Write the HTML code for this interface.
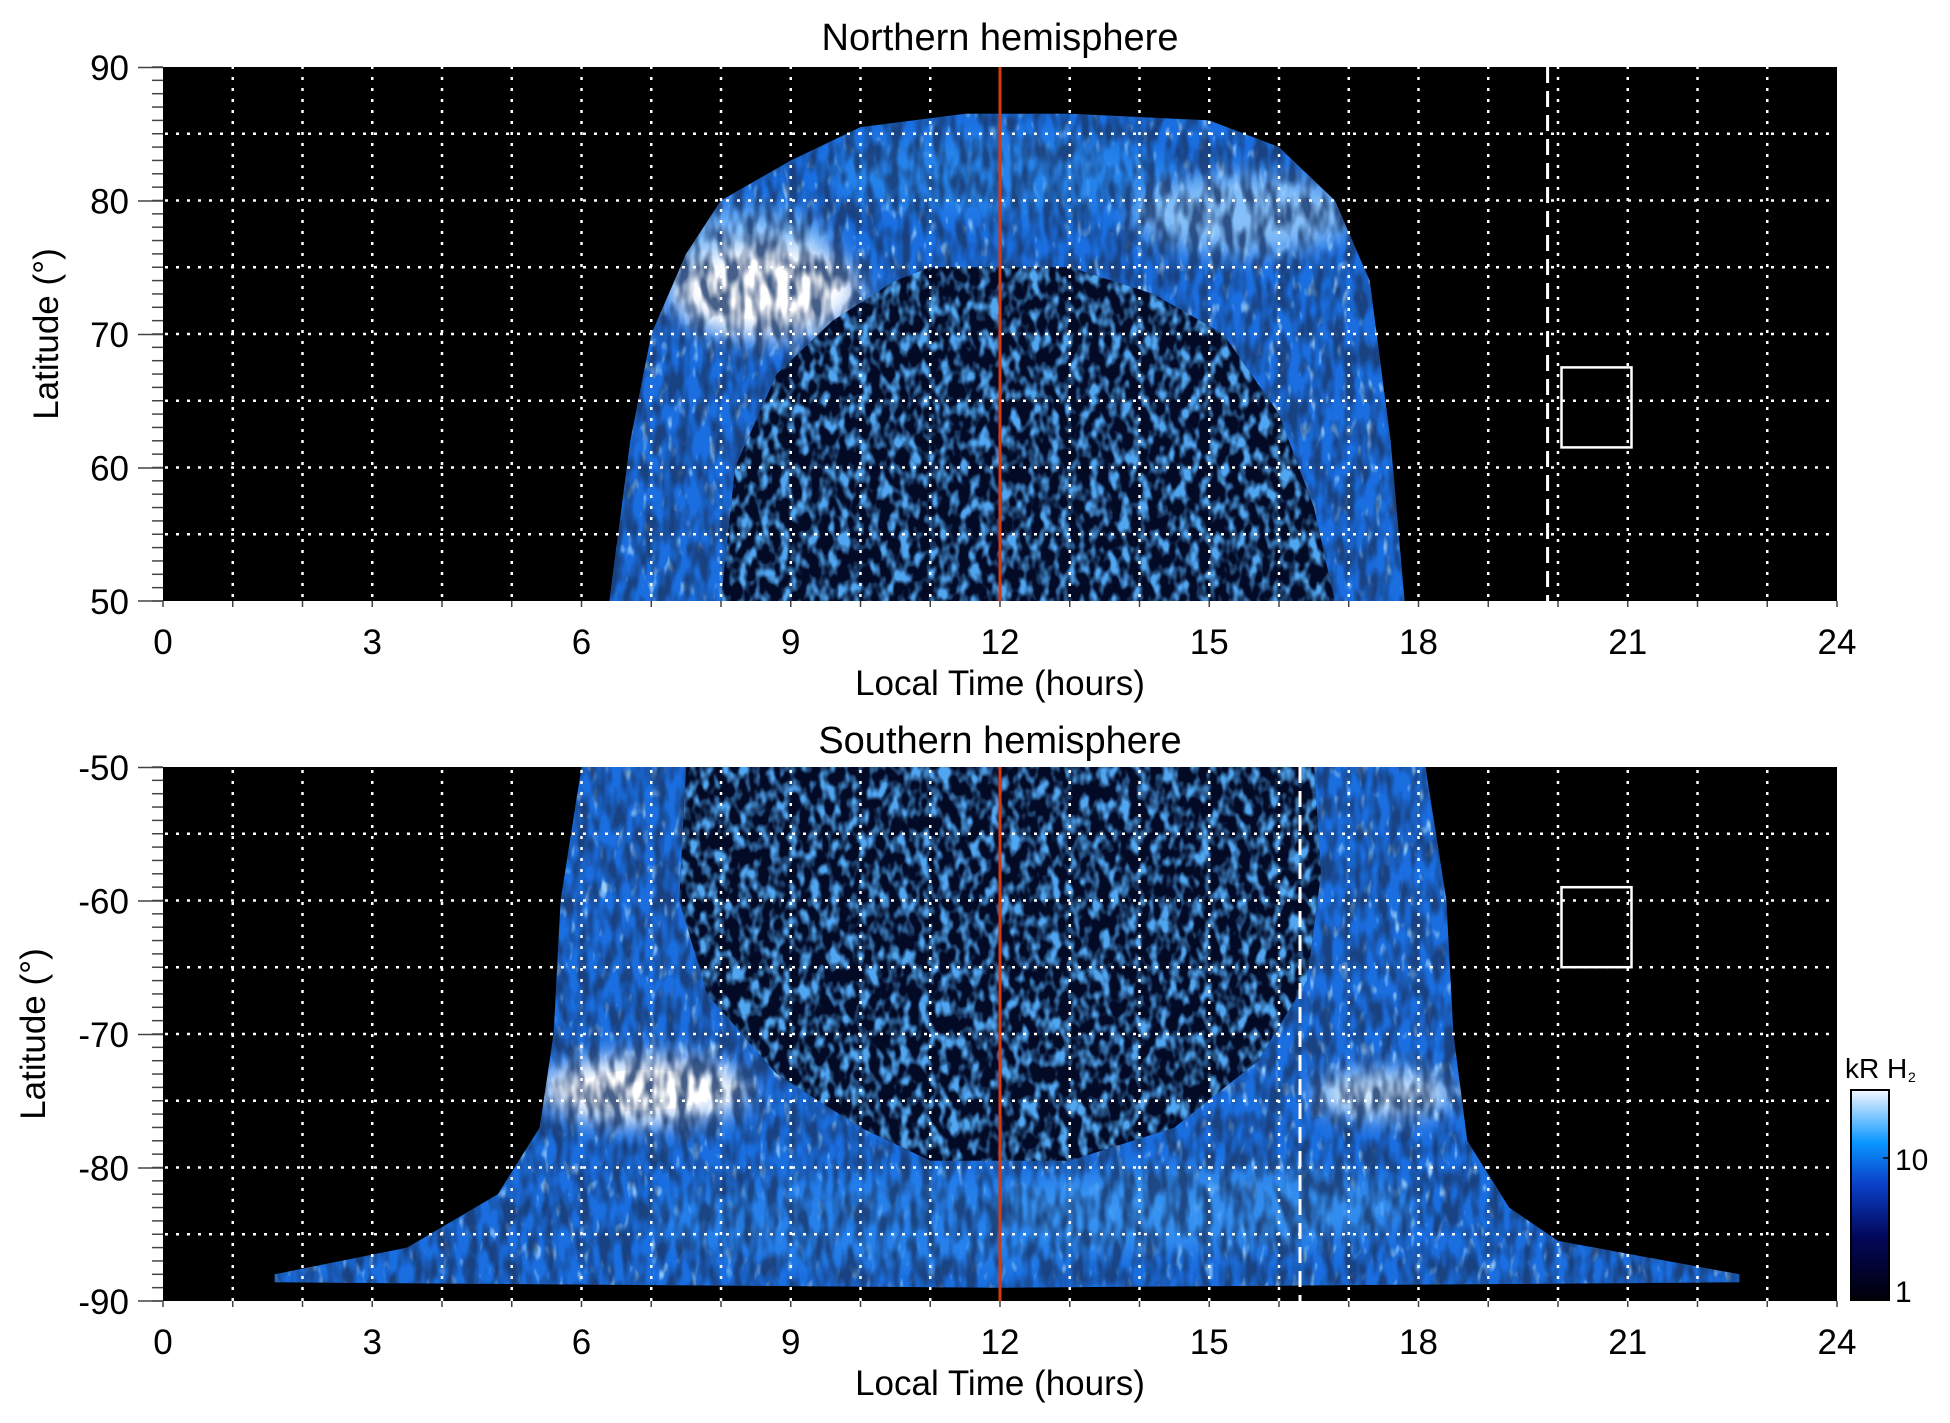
<!DOCTYPE html>
<html><head><meta charset="utf-8"><style>
html,body{margin:0;padding:0;background:#fff;}
svg{display:block;font-family:"Liberation Sans",sans-serif;}
</style></head><body>
<svg width="1950" height="1423" viewBox="0 0 1950 1423" xmlns="http://www.w3.org/2000/svg">
<defs>
<filter id="spk" x="0" y="0" width="100%" height="100%" filterUnits="userSpaceOnUse">
<feTurbulence type="fractalNoise" baseFrequency="0.09 0.035" numOctaves="2" seed="3"/>
<feColorMatrix type="matrix" values="0 0 0 0 0.01  0 0 0 0 0.04  0 0 0 0 0.15  -3.2 0 0 0 2.0"/>
</filter>
<filter id="spk2" x="0" y="0" width="100%" height="100%" filterUnits="userSpaceOnUse">
<feTurbulence type="fractalNoise" baseFrequency="0.12 0.05" numOctaves="2" seed="8"/>
<feColorMatrix type="matrix" values="0 0 0 0 0.5  0 0 0 0 0.8  0 0 0 0 1  4 0 0 0 -2.4"/>
</filter>
<filter id="spk3" x="0" y="0" width="100%" height="100%" filterUnits="userSpaceOnUse">
<feTurbulence type="fractalNoise" baseFrequency="0.1 0.06" numOctaves="2" seed="21"/>
<feColorMatrix type="matrix" values="0 0 0 0 0.08  0 0 0 0 0.38  0 0 0 0 0.88  3.5 0 0 0 -1.5"/>
</filter>
<filter id="blur" x="-50%" y="-50%" width="200%" height="200%"><feGaussianBlur stdDeviation="12"/></filter>
<linearGradient id="cb" x1="0" y1="1" x2="0" y2="0">
<stop offset="0" stop-color="#000008"/><stop offset="0.3" stop-color="#02075a"/>
<stop offset="0.55" stop-color="#0a40c8"/><stop offset="0.75" stop-color="#0a96ff"/>
<stop offset="1" stop-color="#f4f8ff"/></linearGradient>
<pattern id="vg" x="161.75" y="0" width="69.75" height="11" patternUnits="userSpaceOnUse"><rect x="0" y="0" width="2.5" height="3" fill="#fff"/></pattern>
<pattern id="hg1" x="0" y="65.75" width="11" height="66.75" patternUnits="userSpaceOnUse"><rect x="0" y="0" width="3" height="2.5" fill="#fff"/></pattern>
<pattern id="hg2" x="0" y="765.75" width="11" height="66.75" patternUnits="userSpaceOnUse"><rect x="0" y="0" width="3" height="2.5" fill="#fff"/></pattern>
<pattern id="lt1" x="0" y="66.25" width="30" height="13.35" patternUnits="userSpaceOnUse"><rect x="0" y="0" width="30" height="1.5" fill="#444"/></pattern>
<pattern id="lt2" x="0" y="766.25" width="30" height="13.35" patternUnits="userSpaceOnUse"><rect x="0" y="0" width="30" height="1.5" fill="#444"/></pattern>
<pattern id="bt" x="162.25" y="0" width="69.75" height="20" patternUnits="userSpaceOnUse"><rect x="0" y="0" width="1.5" height="20" fill="#444"/></pattern>
<clipPath id="o1"><path d="M609.4,601L630.3,440.8L651.3,334L686.1,253.9L721,200.5L790.8,160.5L860.5,127.1L965.1,113.7L1069.8,113.7L1209.3,120.4L1279,147.1L1334.8,200.5L1369.7,280.6L1390.6,440.8L1404.6,601Z"/></clipPath>
<clipPath id="o2"><path d="M581.5,767L560.6,900.5L553.6,1034L539.7,1127.5L497.8,1194.2L407.1,1247.6L274.6,1274.3L274.6,1282.3L1000,1287.7L1739.4,1282.3L1739.4,1274.3L1558,1240.9L1509.2,1207.6L1467.3,1140.8L1453.4,1034L1446.4,900.5L1425.5,767Z"/></clipPath>
<clipPath id="i1"><path d="M721,601L735,467.5L776.8,374L832.6,320.7L895.4,280.6L930.3,267.3L1069.8,267.3L1153.5,294L1223.2,334L1279,414.1L1313.9,507.6L1334.8,601Z"/></clipPath>
<clipPath id="i2"><path d="M686.1,767L679.2,900.5L707.1,994L776.8,1074.1L860.5,1127.5L930.3,1160.8L1069.8,1160.8L1174.4,1127.5L1258.1,1060.7L1307,980.6L1321,873.8L1314.1,767Z"/></clipPath>
</defs>

<!-- TOP PANEL -->
<rect x="163" y="67" width="1674" height="534" fill="#000"/>
<g clip-path="url(#o1)">
<rect x="163" y="67" width="1674" height="534" fill="#1a6ee0"/>
<rect x="163" y="67" width="1674" height="534" filter="url(#spk2)" opacity="0.8"/>
<ellipse cx="1000" cy="173.8" rx="175" ry="40" fill="#2a8cf0" opacity="0.7" filter="url(#blur)"/>
<ellipse cx="742" cy="240.6" rx="90" ry="33" fill="#8cc8ff" opacity="0.8" filter="url(#blur)"/>
<ellipse cx="1244" cy="213.9" rx="112" ry="40" fill="#a0d4ff" opacity="0.8" filter="url(#blur)"/>
<ellipse cx="765" cy="290" rx="95" ry="48" fill="#ffffff" filter="url(#blur)"/>
<ellipse cx="765" cy="290" rx="60" ry="30" fill="#ffffff"/>
<rect x="163" y="67" width="1674" height="534" filter="url(#spk)" opacity="0.8"/>
</g>
<g clip-path="url(#i1)">
<rect x="163" y="67" width="1674" height="534" fill="#020a26"/>
<rect x="163" y="67" width="1674" height="534" filter="url(#spk3)"/>
</g>
<rect x="166" y="67" width="1668" height="534" fill="url(#vg)"/>
<rect x="163" y="70" width="1674" height="528" fill="url(#hg1)"/>
<line x1="1000" y1="67" x2="1000" y2="601" stroke="#d83a10" stroke-width="3"/>
<line x1="1547.6" y1="67" x2="1547.6" y2="601" stroke="#fff" stroke-width="3" stroke-dasharray="16 8"/>
<rect x="1561.5" y="367.4" width="70" height="80" fill="none" stroke="#fff" stroke-width="2.5"/>
<rect x="152" y="66" width="11" height="536" fill="url(#lt1)"/>
<path d="M138,67.5H163M138,201H163M138,334.5H163M138,468H163M138,601H163" stroke="#444" stroke-width="1.5"/>
<rect x="162" y="601" width="1676" height="6" fill="url(#bt)"/>
<g font-size="35" text-anchor="end">
<text x="129" y="80">90</text><text x="129" y="213.5">80</text><text x="129" y="347">70</text><text x="129" y="480.5">60</text><text x="129" y="614">50</text>
</g>
<g font-size="35" text-anchor="middle">
<text x="163" y="654">0</text><text x="372.25" y="654">3</text><text x="581.5" y="654">6</text><text x="790.75" y="654">9</text><text x="1000" y="654">12</text><text x="1209.25" y="654">15</text><text x="1418.5" y="654">18</text><text x="1627.75" y="654">21</text><text x="1837" y="654">24</text>
<text x="1000" y="695">Local Time (hours)</text>
<text x="1000" y="50" font-size="38">Northern hemisphere</text>
<text transform="translate(58,334) rotate(-90)">Latitude (°)</text>
</g>

<!-- BOTTOM PANEL -->
<rect x="163" y="767" width="1674" height="534" fill="#000"/>
<g clip-path="url(#o2)">
<rect x="163" y="767" width="1674" height="534" fill="#1a6ee0"/>
<rect x="163" y="767" width="1674" height="534" filter="url(#spk2)" opacity="0.8"/>
<ellipse cx="930" cy="1221" rx="280" ry="47" fill="#2a88f0" opacity="0.7" filter="url(#blur)"/>
<ellipse cx="1209" cy="1207.6" rx="210" ry="40" fill="#3c9af5" opacity="0.7" filter="url(#blur)"/>
<ellipse cx="1383.6" cy="1094.1" rx="70" ry="22" fill="#d8eeff" filter="url(#blur)"/>
<ellipse cx="645" cy="1090" rx="105" ry="34" fill="#ffffff" filter="url(#blur)"/>
<ellipse cx="645" cy="1090" rx="70" ry="20" fill="#ffffff"/>
<rect x="163" y="767" width="1674" height="534" filter="url(#spk)" opacity="0.8"/>
</g>
<g clip-path="url(#i2)">
<rect x="163" y="767" width="1674" height="534" fill="#020a26"/>
<rect x="163" y="767" width="1674" height="534" filter="url(#spk3)"/>
</g>
<rect x="166" y="767" width="1668" height="534" fill="url(#vg)"/>
<rect x="163" y="770" width="1674" height="528" fill="url(#hg2)"/>
<line x1="1000" y1="767" x2="1000" y2="1301" stroke="#d83a10" stroke-width="3"/>
<line x1="1300" y1="767" x2="1300" y2="1301" stroke="#fff" stroke-width="3" stroke-dasharray="16 8"/>
<rect x="1561.5" y="887.2" width="70" height="80" fill="none" stroke="#fff" stroke-width="2.5"/>
<rect x="152" y="766" width="11" height="536" fill="url(#lt2)"/>
<path d="M138,767.5H163M138,901H163M138,1034.5H163M138,1168H163M138,1301H163" stroke="#444" stroke-width="1.5"/>
<rect x="162" y="1301" width="1676" height="6" fill="url(#bt)"/>
<g font-size="35" text-anchor="end">
<text x="129" y="780">-50</text><text x="129" y="913.5">-60</text><text x="129" y="1047">-70</text><text x="129" y="1180.5">-80</text><text x="129" y="1314">-90</text>
</g>
<g font-size="35" text-anchor="middle">
<text x="163" y="1354">0</text><text x="372.25" y="1354">3</text><text x="581.5" y="1354">6</text><text x="790.75" y="1354">9</text><text x="1000" y="1354">12</text><text x="1209.25" y="1354">15</text><text x="1418.5" y="1354">18</text><text x="1627.75" y="1354">21</text><text x="1837" y="1354">24</text>
<text x="1000" y="1395">Local Time (hours)</text>
<text x="1000" y="753" font-size="38">Southern hemisphere</text>
<text transform="translate(45,1034) rotate(-90)">Latitude (°)</text>
</g>

<!-- COLORBAR -->
<rect x="1851" y="1090" width="38" height="210" fill="url(#cb)" stroke="#000" stroke-width="2"/>
<line x1="1883" y1="1158" x2="1889" y2="1158" stroke="#000" stroke-width="1.5"/>
<text x="1895" y="1170" font-size="30">10</text>
<text x="1895" y="1302" font-size="30">1</text>
<text x="1845" y="1078" font-size="28">kR H</text>
<text x="1908" y="1082" font-size="14">2</text>
</svg>
</body></html>
